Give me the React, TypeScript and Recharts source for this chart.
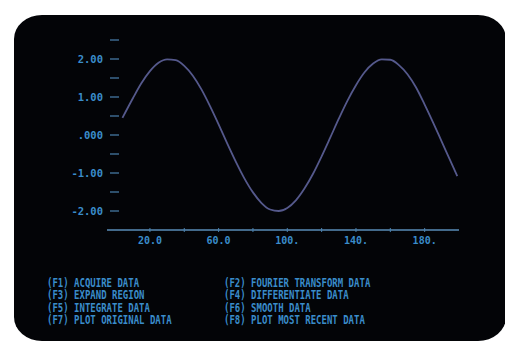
import { LineChart, Line, XAxis, YAxis } from 'recharts';

// sample positions and values
const sampleX = [4, 10, 15, 20, 25, 30, 35, 40, 45, 50, 55, 60, 65, 70, 75, 80, 85, 90, 95, 100,
  105, 110, 115, 120, 125, 130, 135, 140, 145, 150, 155, 160, 165, 170, 175, 180, 185, 190, 195, 199];
const sampleY = [0.45, 0.96, 1.36, 1.68, 1.9, 1.99, 1.97, 1.82, 1.56, 1.2, 0.76, 0.28, -0.22, -0.7,
  -1.14, -1.51, -1.79, -1.96, -2.0, -1.92, -1.72, -1.41, -1.02, -0.56, -0.07, 0.43, 0.9, 1.31,
  1.65, 1.88, 1.99, 1.98, 1.84, 1.6, 1.25, 0.8, 0.32, -0.18, -0.68, -1.08];

const xTicks = [20, 40, 60, 80, 100, 120, 140, 160, 180];
const xLabelTicks = [20, 60, 100, 140, 180];
const xLabelText = ['20.0', '60.0', '100.', '140.', '180.'];

const yTicks = [-2, -1.5, -1, -0.5, 0, 0.5, 1, 1.5, 2, 2.5];
const yLabelTicks = [2, 1, 0, -1, -2];
const yLabelText = ['2.00', '1.00', '.000', '-1.00', '-2.00'];

const leftKeys = ['(F1)', '(F3)', '(F5)', '(F7)'];
const leftItems = ['ACQUIRE DATA', 'EXPAND REGION', 'INTEGRATE DATA', 'PLOT ORIGINAL DATA'];
const rightKeys = ['(F2)', '(F4)', '(F6)', '(F8)'];
const rightItems = ['FOURIER TRANSFORM DATA', 'DIFFERENTIATE DATA', 'SMOOTH DATA', 'PLOT MOST RECENT DATA'];

const data = sampleX.map((x, i) => ({ x, y: sampleY[i] }));

const FONT = '"DejaVu Sans Mono", monospace';
const TEXT = '#3a8cca';
const TICK = '#4a82b0';

function XTick(props: any) {
  const { x, y, payload } = props;
  const idx = xLabelTicks.indexOf(payload.value);
  return (
    <g>
      <line x1={x} x2={x} y1={y - 2} y2={y + 2} stroke={TICK} strokeWidth={1} />
      {idx >= 0 && (
        <text x={x} y={y + 14} textAnchor="middle" fill={TEXT} fontFamily={FONT}
          fontSize={10} fontWeight="bold">
          {xLabelText[idx]}
        </text>
      )}
    </g>
  );
}

function YTick(props: any) {
  const { x, y, payload } = props;
  const idx = yLabelTicks.indexOf(payload.value);
  return (
    <g>
      <line x1={x + 3} x2={x + 12} y1={y} y2={y} stroke={TICK} strokeWidth={1.2} />
      {idx >= 0 && (
        <text x={x - 4} y={y + 4} textAnchor="end" fill={TEXT} fontFamily={FONT}
          fontSize={10.5} fontWeight="bold">
          {yLabelText[idx]}
        </text>
      )}
    </g>
  );
}

function Menu({ keys, items, left }: { keys: string[]; items: string[]; left: number }) {
  return (
    <div style={{
      position: 'absolute', left, top: 278, fontFamily: FONT, fontSize: 9, fontWeight: 'bold',
      lineHeight: '9.4px', color: TEXT, whiteSpace: 'pre', transform: 'scale(1, 1.3)',
      transformOrigin: 'top left',
    }}>
      {keys.map((k, i) => (
        <div key={k}>{k + ' ' + items[i]}</div>
      ))}
    </div>
  );
}

export default function App() {
  return (
    <div style={{ position: 'fixed', left: 0, top: 0, width: 505, height: 343, background: '#fff', overflow: 'hidden' }}>
      <div style={{
        position: 'absolute', left: 14, top: 15, width: 492, height: 326,
        background: '#030407', borderRadius: '28px / 24px',
      }} />
      <div style={{ position: 'absolute', left: 0, top: 0 }}>
        <LineChart width={505} height={343} data={data}
          margin={{ top: 40, right: 46, bottom: 83, left: 47 }}>
          <XAxis type="number" dataKey="x" domain={[-5, 200]} ticks={xTicks} interval={0}
            axisLine={{ stroke: '#5a8cb8', strokeWidth: 1.3 }} tickLine={false}
            tickSize={0} tickMargin={0} height={30} tick={XTick} allowDataOverflow />
          <YAxis type="number" domain={[-2.5, 2.5]} ticks={yTicks} interval={0}
            axisLine={false} tickLine={false} tickSize={0} tickMargin={0} width={60}
            tick={YTick} allowDataOverflow />
          <Line type="monotone" dataKey="y" stroke="#55598c" strokeWidth={1.8} dot={false}
            isAnimationActive={false} />
        </LineChart>
      </div>
      <Menu keys={leftKeys} items={leftItems} left={47} />
      <Menu keys={rightKeys} items={rightItems} left={224} />
    </div>
  );
}
